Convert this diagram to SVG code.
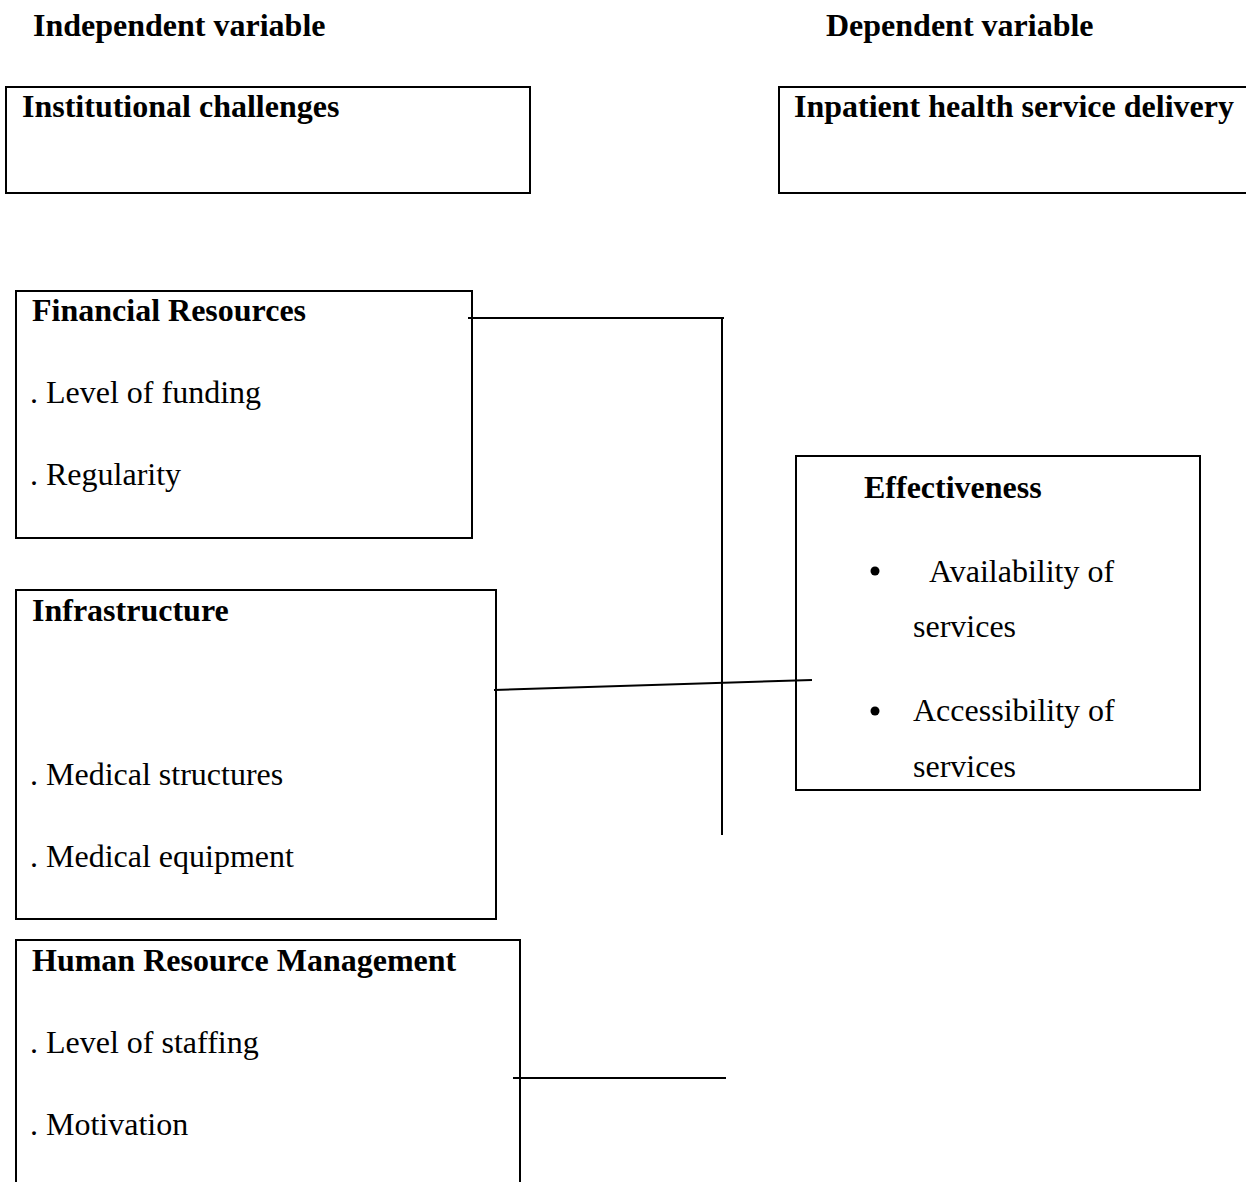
<svg xmlns="http://www.w3.org/2000/svg" width="1246" height="1182" viewBox="0 0 1246 1182">
<style>
.b{font-family:"Liberation Serif","Times New Roman",serif;font-weight:bold;font-size:32px;fill:#000}
.r{font-family:"Liberation Serif","Times New Roman",serif;font-size:32px;fill:#000}
.box{fill:none;stroke:#000;stroke-width:2}
.ln{fill:none;stroke:#000;stroke-width:2}
</style>
<rect width="1246" height="1182" fill="#fff"/>
<g id="labels">
<text class="b" x="33" y="36">Independent variable</text>
<text class="b" x="826" y="36">Dependent variable</text>
</g>
<g id="institutional">
<rect class="box" x="6" y="87" width="524" height="106"/>
<text class="b" x="22" y="117">Institutional challenges</text>
</g>
<g id="inpatient">
<path class="box" d="M1247,87 H779 V193 H1247"/>
<text class="b" x="794" y="117">Inpatient health service delivery</text>
</g>
<g id="financial">
<rect class="box" x="16" y="291" width="456" height="247"/>
<text class="b" x="32" y="321">Financial Resources</text>
<text class="r" x="30" y="403">. Level of funding</text>
<text class="r" x="30" y="485">. Regularity</text>
</g>
<g id="infrastructure">
<rect class="box" x="16" y="590" width="480" height="329"/>
<text class="b" x="32" y="621">Infrastructure</text>
<text class="r" x="30" y="785">. Medical structures</text>
<text class="r" x="30" y="867">. Medical equipment</text>
</g>
<g id="hrm">
<path class="box" d="M16,1183 V940 H520 V1183"/>
<text class="b" x="32" y="971">Human Resource Management</text>
<text class="r" x="30" y="1053">. Level of staffing</text>
<text class="r" x="30" y="1135">. Motivation</text>
</g>
<g id="effectiveness">
<rect class="box" x="796" y="456" width="404" height="334"/>
<text class="b" x="864" y="498">Effectiveness</text>
<circle cx="875" cy="571" r="4.5"/>
<text class="r" x="929" y="582">Availability of</text>
<text class="r" x="913" y="637">services</text>
<circle cx="875" cy="711" r="4.5"/>
<text class="r" x="913" y="721">Accessibility of</text>
<text class="r" x="913" y="777">services</text>
</g>
<g id="connectors">
<line class="ln" x1="468" y1="318" x2="724" y2="318"/>
<line class="ln" x1="722" y1="318" x2="722" y2="835"/>
<line class="ln" x1="494" y1="690" x2="812" y2="680"/>
<line class="ln" x1="513" y1="1078" x2="726" y2="1078"/>
</g>
</svg>
